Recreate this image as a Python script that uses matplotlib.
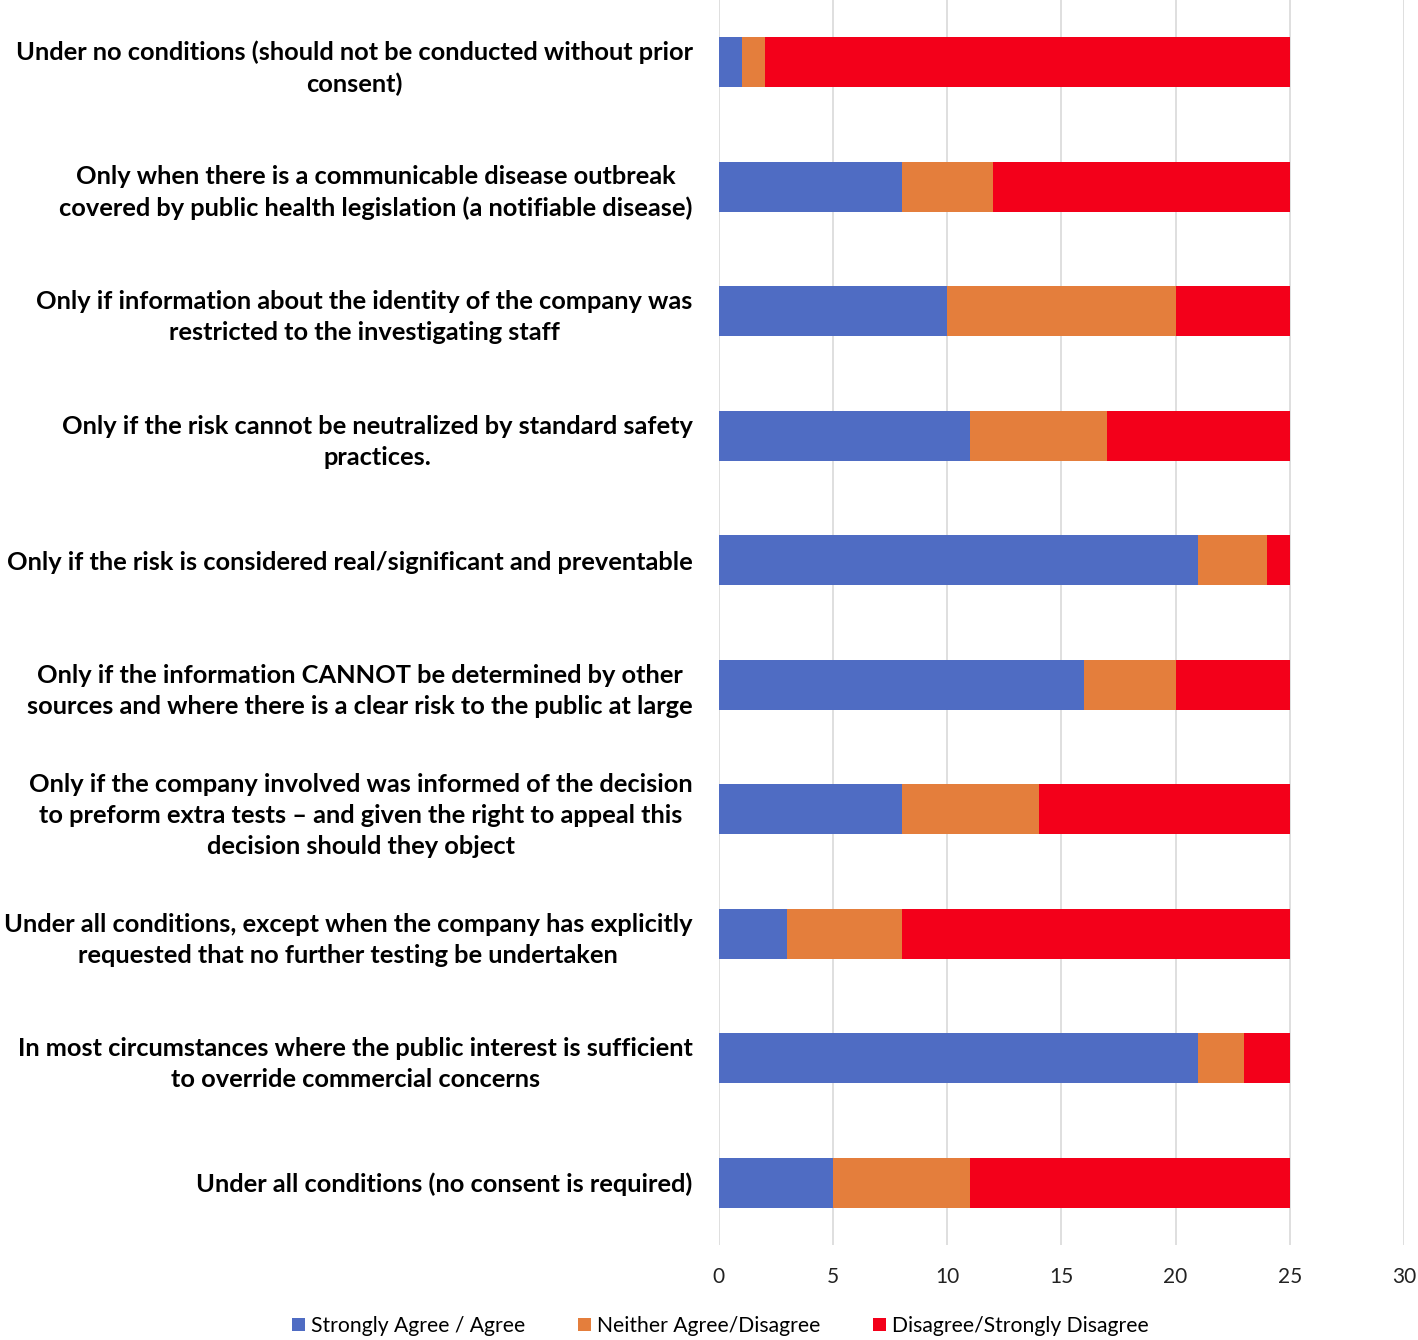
import matplotlib.pyplot as plt
import numpy as np

# survey statements (top to bottom)
labels = [
    "Under no conditions (should not be conducted without prior\nconsent)",
    "Only when there is a communicable disease outbreak\ncovered by public health legislation (a notifiable disease)",
    "Only if information about the identity of the company was\nrestricted to the investigating staff",
    "Only if the risk cannot be neutralized by standard safety\npractices.",
    "Only if the risk is considered real/significant and preventable",
    "Only if the information CANNOT be determined by other\nsources and where there is a clear risk to the public at large",
    "Only if the company involved was informed of the decision\nto preform extra tests \u2013 and given the right to appeal this\ndecision should they object",
    "Under all conditions, except when the company has explicitly\nrequested that no further testing be undertaken",
    "In most circumstances where the public interest is sufficient\nto override commercial concerns",
    "Under all conditions (no consent is required)",
]
agree = [1, 8, 10, 11, 21, 16, 8, 3, 21, 5]
neither = [1, 4, 10, 6, 3, 4, 6, 5, 2, 6]
disagree = [23, 13, 5, 8, 1, 5, 11, 17, 2, 14]

series_names = ["Strongly Agree / Agree", "Neither Agree/Disagree", "Disagree/Strongly Disagree"]
colors = ["#4F6CC3", "#E47E3C", "#F3001A"]

plt.rcParams['font.family'] = ['Lato', 'DejaVu Sans']

fig = plt.figure(figsize=(14.18, 13.4), dpi=100)
ax = fig.add_axes([0.507, 0.071, 0.483, 0.929])

y = np.arange(len(labels))
left = np.zeros(len(labels))
for vals, name, c in zip([agree, neither, disagree], series_names, colors):
    ax.barh(y, vals, left=left, height=0.4, color=c, label=name, zorder=3)
    left += np.array(vals)

ax.set_ylim(len(labels) - 0.5, -0.5)
ax.set_xlim(0, 30)
ax.set_xticks(range(0, 31, 5))
ax.grid(axis='x', color='#D9D9D9', linewidth=1.2, zorder=0)
for s in ax.spines.values():
    s.set_visible(False)
ax.tick_params(axis='x', length=0, labelsize=15, pad=16, colors='#222222')
ax.tick_params(axis='y', length=0, pad=19)
ax.set_yticks(y)
ax.set_yticklabels(labels, fontsize=18.3, fontweight='bold', linespacing=1.42)
for t in ax.get_yticklabels():
    t.set_multialignment('center')

fig.legend(loc='center', bbox_to_anchor=(0.508, 0.0104), ncol=3, frameon=False,
           fontsize=15.2, handlelength=0.6, handleheight=0.6, handletextpad=0.3,
           columnspacing=2.5)

fig.savefig('out.png', dpi=100)
